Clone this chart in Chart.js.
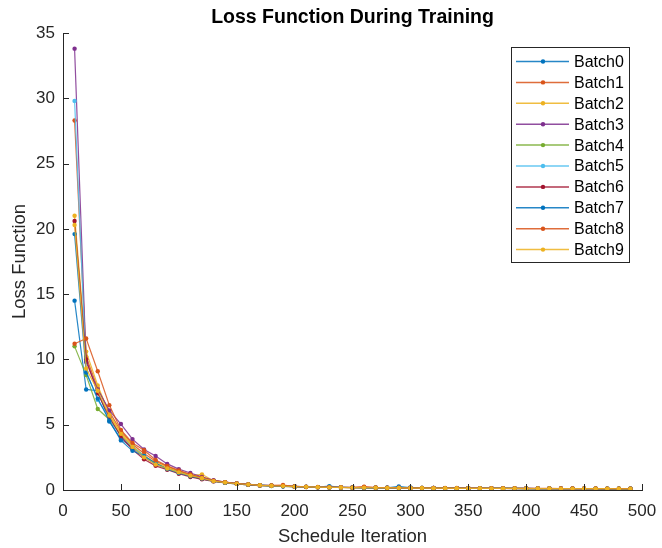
<!DOCTYPE html>
<html>
<head>
<meta charset="utf-8">
<script src="https://cdn.jsdelivr.net/npm/chart.js@4.4.0/dist/chart.umd.min.js"></script>
<style>
  html, body { margin: 0; padding: 0; background: #ffffff; }
  #wrap { width: 662px; height: 548px; position: relative; }
</style>
</head>
<body>
<div id="wrap"><canvas id="c" width="662" height="548"></canvas></div>
<script>
// ---- data ----
const iterations = [10,20,30,40,50,60,70,80,90,100,110,120,130,140,150,160,170,180,190,200,210,220,230,240,250,260,270,280,290,300,310,320,330,340,350,360,370,380,390,400,410,420,430,440,450,460,470,480,490];
const seriesNames = ["Batch0","Batch1","Batch2","Batch3","Batch4","Batch5","Batch6","Batch7","Batch8","Batch9"];
const batch0 = [14.5,7.7,7.6,5.25,3.9,3.25,2.5,2.0,1.65,1.35,1.1,0.9,0.7,0.58,0.5,0.42,0.37,0.33,0.3,
  0.27,0.25,0.22,0.3,0.2,0.19,0.18,0.17,0.17,0.28,0.16,0.15,0.15,0.14,0.14,0.13,0.13,0.13,0.12,0.12,0.12,0.11,0.11,0.11,0.1,0.1,0.1,0.1,0.09,0.09];
const batch1 = [28.3,10.2,7.8,6.0,4.5,3.5,2.8,2.2,1.8,1.45,1.15,0.95,0.72,0.6,0.5,0.43,0.36,0.34,0.33,
  0.27,0.24,0.22,0.21,0.2,0.19,0.24,0.18,0.17,0.16,0.16,0.15,0.15,0.14,0.14,0.13,0.13,0.13,0.12,0.12,0.12,0.11,0.11,0.11,0.11,0.1,0.1,0.1,0.1,0.09];
const batch2 = [21.0,10.6,8.0,5.8,4.4,3.4,2.6,2.1,1.75,1.4,1.1,1.2,0.7,0.58,0.5,0.42,0.35,0.32,0.3,
  0.26,0.23,0.21,0.2,0.19,0.18,0.18,0.17,0.16,0.16,0.15,0.15,0.14,0.14,0.13,0.13,0.13,0.12,0.12,0.12,0.11,0.11,0.11,0.1,0.1,0.1,0.1,0.09,0.09,0.09];
const batch3 = [33.8,9.8,7.7,6.1,5.05,3.9,3.1,2.6,2.0,1.6,1.3,1.0,0.75,0.6,0.5,0.44,0.37,0.33,0.3,
  0.27,0.24,0.22,0.21,0.2,0.19,0.18,0.18,0.17,0.16,0.16,0.15,0.15,0.14,0.14,0.13,0.13,0.13,0.12,0.12,0.12,0.11,0.11,0.11,0.1,0.1,0.1,0.1,0.09,0.09];
const batch4 = [11.0,8.8,6.2,5.4,4.2,3.3,2.6,2.0,1.65,1.35,1.05,0.85,0.68,0.55,0.47,0.4,0.35,0.31,0.28,
  0.25,0.23,0.21,0.2,0.19,0.18,0.17,0.17,0.16,0.15,0.15,0.14,0.14,0.13,0.13,0.13,0.12,0.12,0.12,0.11,0.11,0.11,0.1,0.1,0.1,0.1,0.09,0.09,0.09,0.09];
const batch5 = [29.8,9.1,6.9,5.5,4.1,3.3,2.6,2.0,1.6,1.35,1.05,0.85,0.68,0.55,0.47,0.4,0.35,0.31,0.28,
  0.26,0.24,0.22,0.21,0.2,0.19,0.18,0.17,0.17,0.16,0.15,0.15,0.14,0.14,0.13,0.13,0.13,0.12,0.12,0.12,0.11,0.11,0.11,0.1,0.1,0.1,0.1,0.1,0.09,0.09];
const batch6 = [20.6,10.0,7.4,5.6,4.1,3.1,2.35,1.85,1.55,1.25,1.0,0.82,0.66,0.55,0.47,0.4,0.34,0.33,0.28,
  0.25,0.23,0.21,0.2,0.19,0.18,0.18,0.17,0.16,0.16,0.15,0.14,0.14,0.14,0.13,0.13,0.12,0.12,0.12,0.11,0.11,0.11,0.1,0.1,0.1,0.1,0.1,0.09,0.09,0.09];
const batch7 = [19.6,9.0,7.0,5.3,3.8,3.0,2.6,2.05,1.6,1.3,1.05,0.88,0.68,0.56,0.48,0.41,0.36,0.32,0.29,
  0.26,0.24,0.22,0.21,0.2,0.19,0.18,0.17,0.17,0.16,0.2,0.15,0.15,0.14,0.14,0.13,0.13,0.12,0.12,0.12,0.11,0.11,0.11,0.1,0.1,0.1,0.1,0.09,0.09,0.09];
const batch8 = [11.2,11.6,9.1,6.5,4.6,3.6,3.05,2.3,1.85,1.5,1.2,0.95,0.72,0.6,0.5,0.43,0.37,0.35,0.38,
  0.28,0.25,0.23,0.22,0.21,0.2,0.25,0.19,0.18,0.17,0.17,0.16,0.15,0.15,0.15,0.14,0.14,0.13,0.13,0.13,0.12,0.12,0.12,0.11,0.11,0.11,0.11,0.1,0.1,0.1];
const batch9 = [20.3,9.3,7.6,5.7,4.3,3.3,2.5,1.95,1.65,1.35,1.1,0.9,0.68,0.57,0.48,0.42,0.36,0.32,0.3,
  0.26,0.24,0.22,0.2,0.19,0.18,0.18,0.17,0.16,0.16,0.15,0.15,0.14,0.14,0.13,0.13,0.13,0.12,0.12,0.12,0.11,0.11,0.11,0.1,0.1,0.1,0.1,0.1,0.09,0.09];
const xTicks = [0,50,100,150,200,250,300,350,400,450,500];
const yTicks = [0,5,10,15,20,25,30,35];
const chartTitle = 'Loss Function During Training';

const allSeries = [batch0,batch1,batch2,batch3,batch4,batch5,batch6,batch7,batch8,batch9];
const palette = ["#0072BD","#D95319","#EDB120","#7E2F8E","#77AC30","#4DBEEE","#A2142F"];
function rgba(hex, a) {
  const n = parseInt(hex.slice(1), 16);
  return `rgba(${(n>>16)&255},${(n>>8)&255},${n&255},${a})`;
}

const FONT = "'Liberation Sans', Arial, Helvetica, sans-serif";
const AXIS_COLOR = "#262626";

const datasets = allSeries.map((vals, i) => {
  const col = palette[i % palette.length];
  return {
    label: seriesNames[i],
    data: iterations.map((x, k) => ({ x: x, y: vals[k] })),
    borderColor: rgba(col, 0.85),
    backgroundColor: col,
    pointBackgroundColor: col,
    pointBorderColor: col,
    pointBorderWidth: 0,
    pointRadius: 2.2,
    borderWidth: 1.2,
    tension: 0,
    order: 9 - i,
    _solid: col
  };
});

const tickPlugin = {
  id: 'inwardTicks',
  afterDatasetsDraw(chart) {
    const ctx = chart.ctx;
    const xs = chart.scales.x, ys = chart.scales.y;
    const a = chart.chartArea;
    ctx.save();
    ctx.strokeStyle = AXIS_COLOR;
    ctx.lineWidth = 1;
    ctx.beginPath();
    xTicks.forEach(v => {
      const px = Math.round(xs.getPixelForValue(v)) + 0.5;
      ctx.moveTo(px, a.bottom);
      ctx.lineTo(px, a.bottom - 6);
    });
    yTicks.forEach(v => {
      const py = Math.round(ys.getPixelForValue(v)) + 0.5;
      ctx.moveTo(a.left, py);
      ctx.lineTo(a.left + 6, py);
    });
    ctx.stroke();
    ctx.restore();
  }
};

const titlePlugin = {
  id: 'axesTitle',
  afterDraw(chart) {
    const ctx = chart.ctx;
    const a = chart.chartArea;
    ctx.save();
    ctx.font = "bold 19.5px " + FONT;
    ctx.fillStyle = "#000000";
    ctx.textAlign = "center";
    ctx.textBaseline = "middle";
    ctx.fillText(chartTitle, (a.left + a.right) / 2, 18);
    ctx.restore();
  }
};

const legendPlugin = {
  id: 'insideLegend',
  afterDraw(chart) {
    const ctx = chart.ctx;
    const bx = 511, by = 47, bw = 118, bh = 215;
    ctx.save();
    ctx.fillStyle = "#ffffff";
    ctx.fillRect(bx, by, bw, bh);
    ctx.strokeStyle = AXIS_COLOR;
    ctx.lineWidth = 1;
    ctx.strokeRect(bx + 0.5, by + 0.5, bw, bh);
    ctx.font = "16px " + FONT;
    ctx.textBaseline = "middle";
    ctx.textAlign = "left";
    chart.data.datasets.forEach((ds, i) => {
      const y = 61.5 + i * 20.9;
      ctx.strokeStyle = ds.borderColor;
      ctx.lineWidth = 1.5;
      ctx.beginPath();
      ctx.moveTo(516, y);
      ctx.lineTo(569, y);
      ctx.stroke();
      ctx.fillStyle = ds._solid;
      ctx.beginPath();
      ctx.arc(543, y, 2.2, 0, Math.PI * 2);
      ctx.fill();
      ctx.fillStyle = "#000000";
      ctx.fillText(ds.label, 574, y + 1);
    });
    ctx.restore();
  }
};

new Chart(document.getElementById('c'), {
  type: 'line',
  data: { datasets: datasets },
  options: {
    responsive: false,
    animation: false,
    devicePixelRatio: 1,
    layout: { padding: { left: 0, right: 20, top: 33, bottom: 0 } },
    plugins: {
      legend: { display: false },
      tooltip: { enabled: false },
      title: { display: false }
    },
    scales: {
      x: {
        type: 'linear',
        min: 0, max: 500,
        afterBuildTicks(scale) { scale.ticks = xTicks.map(v => ({ value: v })); },
        afterFit(scale) { scale.height = 58; scale.paddingRight = 0; scale.paddingLeft = 0; },
        grid: { display: false, drawTicks: false },
        border: { display: true, color: AXIS_COLOR, width: 1 },
        ticks: {
          color: AXIS_COLOR,
          font: { family: FONT, size: 17 },
          padding: 11,
          maxRotation: 0,
          autoSkip: false
        },
        title: {
          display: true,
          text: 'Schedule Iteration',
          color: AXIS_COLOR,
          font: { family: FONT, size: 18.5 },
          padding: { top: 0, bottom: 0 }
        }
      },
      y: {
        type: 'linear',
        min: 0, max: 35,
        afterBuildTicks(scale) { scale.ticks = yTicks.map(v => ({ value: v })); },
        afterFit(scale) { scale.width = 63; },
        grid: { display: false, drawTicks: false },
        border: { display: true, color: AXIS_COLOR, width: 1 },
        ticks: {
          color: AXIS_COLOR,
          font: { family: FONT, size: 17 },
          padding: 8,
          autoSkip: false
        },
        title: {
          display: true,
          text: 'Loss Function',
          color: AXIS_COLOR,
          font: { family: FONT, size: 18.5 },
          padding: { top: 9, bottom: 0 }
        }
      }
    }
  },
  plugins: [tickPlugin, titlePlugin, legendPlugin]
});
</script>
</body>
</html>
